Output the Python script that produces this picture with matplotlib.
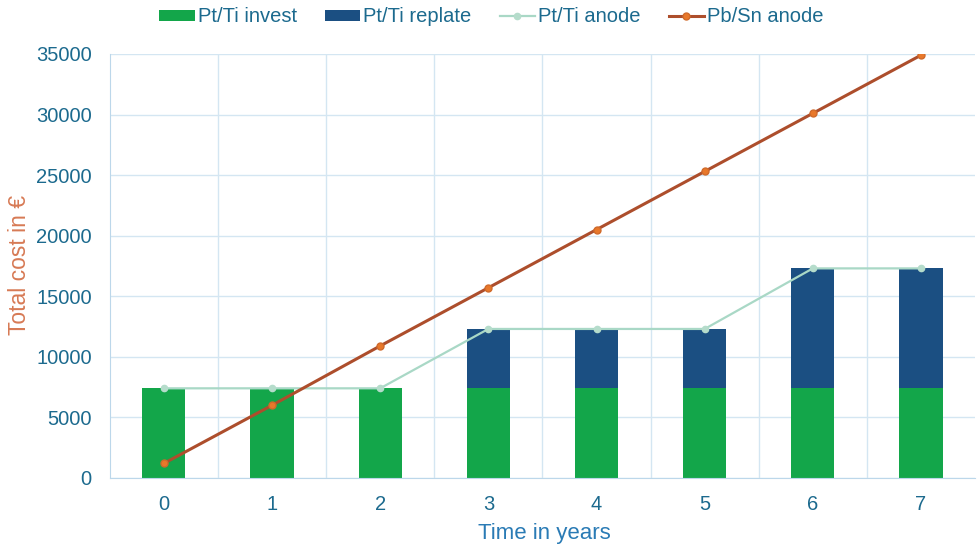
import matplotlib
matplotlib.use("Agg")
import matplotlib.pyplot as plt
import numpy as np

years = [0, 1, 2, 3, 4, 5, 6, 7]
pt_invest = [7400, 7400, 7400, 7400, 7400, 7400, 7400, 7400]
pt_replate = [0, 0, 0, 4900, 4900, 4900, 9900, 9900]
pt_anode = [7400, 7400, 7400, 12300, 12300, 12300, 17300, 17300]
pbsn_anode = [1200, 6000, 10900, 15700, 20500, 25300, 30100, 34900]

plt.rcParams['font.family'] = ['Liberation Sans', 'DejaVu Sans']

fig = plt.figure(figsize=(9.8, 5.45), dpi=100)
ax = fig.add_axes([0.112, 0.123, 0.883, 0.778])

x = np.arange(len(years))
green = '#13a64a'
navy = '#1b4f82'
b1 = ax.bar(x, pt_invest, width=0.4, color=green, label='Pt/Ti invest', zorder=2)
b2 = ax.bar(x, pt_replate, width=0.4, bottom=pt_invest, color=navy, label='Pt/Ti replate', zorder=2)
l1, = ax.plot(x, pt_anode, color='#a9d8c6', lw=1.6, marker='o', ms=4.5,
              markerfacecolor='#b5dccb', markeredgecolor='#b5dccb', label='Pt/Ti anode', zorder=3)
l2, = ax.plot(x, pbsn_anode, color='#ad4e2c', lw=2.2, marker='o', ms=5,
              markerfacecolor='#e8782a', markeredgecolor='#d06a2a', label='Pb/Sn anode', zorder=4)

ax.set_xlim(-0.5, len(years) - 0.5)
ax.set_ylim(0, 35000)
ax.set_yticks(np.arange(0, 35001, 5000))
ax.set_xticks(x)
ax.set_xticklabels([str(v) for v in years])
ax.set_xticks(np.arange(0.5, len(years) - 0.5, 1), minor=True)

gridc = '#d4e6f2'
ax.yaxis.grid(True, color=gridc, lw=1, zorder=0)
ax.xaxis.grid(True, which='minor', color=gridc, lw=1, zorder=0)
ax.set_axisbelow(True)
for s in ['top', 'right']:
    ax.spines[s].set_visible(False)
for s in ['left', 'bottom']:
    ax.spines[s].set_color('#bcd7ea')
ax.tick_params(axis='both', which='both', length=0, labelsize=14.5, colors='#1c6a8e')
ax.tick_params(axis='y', pad=13)
ax.tick_params(axis='x', pad=12)

fig.text(20 / 980, 0.514, 'Total cost in €', rotation=90, ha='center', va='center',
         fontsize=16.5, color='#d77a55')
fig.text(544 / 980, 1 - 533 / 545, 'Time in years', ha='center', va='center',
         fontsize=16, color='#2a7bb5')

fig.legend(handles=[b1, b2, l1, l2], loc='center', bbox_to_anchor=(491.5 / 980, 1 - 17 / 545),
           bbox_transform=fig.transFigure, ncol=4, frameon=False,
           fontsize=14.5, handlelength=1.75, handleheight=0.5, columnspacing=1.4,
           handletextpad=0.15, labelcolor='#1c6a8e', borderaxespad=0, borderpad=0)

fig.savefig('out.png', dpi=100)
